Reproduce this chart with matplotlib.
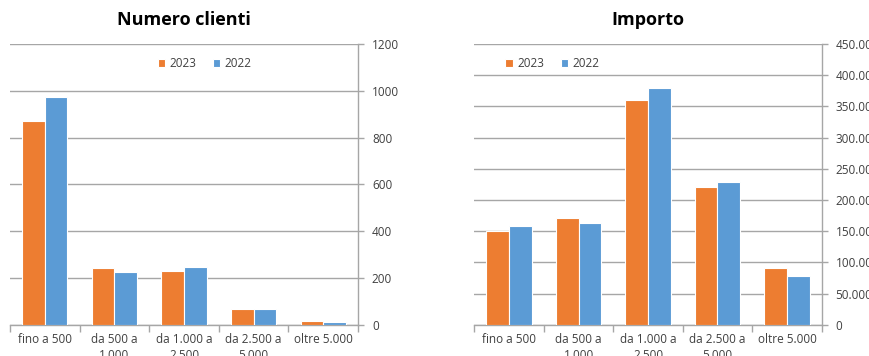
#!/usr/bin/env python3
"""Clienti e importo per fascia, confronto 2023 / 2022 (stile Excel)."""
import numpy as np
import matplotlib
matplotlib.use("Agg")
import matplotlib.pyplot as plt
from matplotlib.ticker import FuncFormatter, MultipleLocator

ORANGE = "#ED7D31"
BLUE = "#5B9BD5"
GRID = "#a6a6a6"
TXT = "#404040"

fasce = ["fino a 500", "da 500 a\n1.000", "da 1.000 a\n2.500",
         "da 2.500 a\n5.000", "oltre 5.000"]
clienti_2023 = [870, 242, 230, 70, 17]
clienti_2022 = [972, 228, 246, 70, 13]
importo_2023 = [150000, 170500, 360000, 220500, 90500]
importo_2022 = [159000, 163500, 380000, 229000, 77500]

plt.rcParams.update({
    "font.family": ["Open Sans", "DejaVu Sans"],
    "font.size": 8.5,
})


def migliaia(v, _pos):
    return f"{int(v):,}".replace(",", ".")


def pannello(ax, titolo, v23, v22, ymax, step, fmt, legend_x):
    x = np.arange(len(fasce))
    w = 0.325
    ax.bar(x - w / 2, v23, w, color=ORANGE, edgecolor="white",
           linewidth=0.8, label="2023", zorder=3)
    ax.bar(x + w / 2, v22, w, color=BLUE, edgecolor="white",
           linewidth=0.8, label="2022", zorder=3)
    ax.set_xlim(-0.5, len(fasce) - 0.5)
    ax.set_ylim(0, ymax)
    ax.yaxis.set_major_locator(MultipleLocator(step))
    if fmt:
        ax.yaxis.set_major_formatter(FuncFormatter(fmt))
    ax.yaxis.tick_right()
    ax.grid(axis="y", color=GRID, linewidth=1.0, zorder=0)
    for s in ("top", "left"):
        ax.spines[s].set_visible(False)
    for s in ("right", "bottom"):
        ax.spines[s].set_color(GRID)
        ax.spines[s].set_linewidth(1.0)
    ax.tick_params(axis="y", colors=GRID, labelcolor=TXT, length=4,
                   width=1.0, pad=6, labelsize=8.5)
    # category boundaries get the tick marks, centres get the labels
    ax.set_xticks(np.arange(len(fasce) + 1) - 0.5)
    ax.set_xticklabels([])
    ax.set_xticks(x, minor=True)
    ax.set_xticklabels(fasce, minor=True, color=TXT, fontsize=8.5,
                       linespacing=1.25, va="top")
    ax.tick_params(axis="x", which="major", colors=GRID, length=5, width=1.0)
    ax.tick_params(axis="x", which="minor", length=0, pad=6)
    ax.set_title(titolo, fontsize=13, fontweight="bold", color="black",
                 pad=14)
    ax.legend(loc="center", bbox_to_anchor=(legend_x, 0.93), ncol=2,
              frameon=False, handlelength=0.6, handleheight=0.6,
              handletextpad=0.4, columnspacing=1.4, fontsize=8.5,
              labelcolor=TXT)


fig = plt.figure(figsize=(8.7, 3.56), dpi=100)
ax1 = fig.add_axes([0.0115, 0.0871, 0.400, 0.7893])
ax2 = fig.add_axes([0.5452, 0.0879, 0.3993, 0.7885])

pannello(ax1, "Numero clienti", clienti_2023, clienti_2022, 1200, 200,
         None, 0.56)
pannello(ax2, "Importo", importo_2023, importo_2022, 450000, 50000,
         migliaia, 0.225)

fig.savefig("out.png", dpi=100, facecolor="white")
